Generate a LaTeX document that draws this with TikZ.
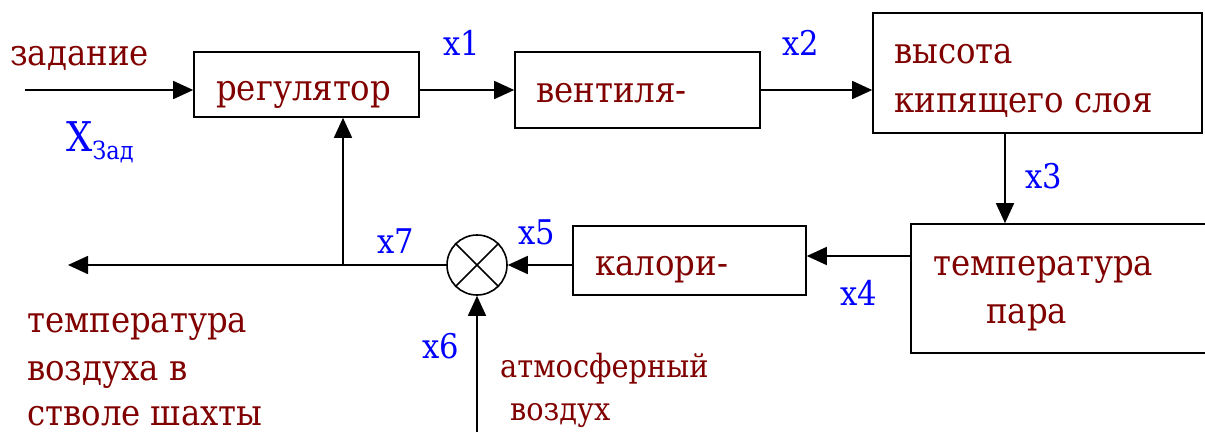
\documentclass[tikz,border=0pt]{standalone}
\usepackage{fontspec}
\setmainfont{DejaVu Serif Condensed}
\newfontfamily\tnr{DejaVu Serif Condensed}
\usetikzlibrary{arrows.meta}
\definecolor{dred}{RGB}{128,0,0}
\definecolor{lblue}{RGB}{0,0,255}
\begin{document}
\begin{tikzpicture}[x=1pt,y=-1pt,
  blk/.style={draw=black,line width=1.6pt,minimum width=#1,inner sep=0pt},
  txt/.style={anchor=base west,inner sep=0pt,text=dred,font=\tnr\fontsize{36}{42}\selectfont},
  stxt/.style={anchor=base west,inner sep=0pt,text=dred,font=\tnr\fontsize{32}{38}\selectfont},
  lbl/.style={anchor=base west,inner sep=0pt,text=lblue,font=\tnr\fontsize{34}{40}\selectfont},
  arr/.style={draw=black,line width=1.6pt,-{Triangle[length=20pt,width=18pt]}},
  ln/.style={draw=black,line width=1.6pt}]
\useasboundingbox (0,0) rectangle (1205,432);
% boxes
\node[blk=225pt,minimum height=65pt] (reg) at (306.5,84.5) {};
\node[blk=245pt,minimum height=76pt] (vent) at (637.5,90) {};
\node[blk=329pt,minimum height=120pt] (vys) at (1037.5,73) {};
\node[blk=319pt,minimum height=129pt] (temp) at (1070.5,288.5) {};
\node[blk=233pt,minimum height=69pt] (kal) at (689.5,260.5) {};
\node[draw=black,line width=1.6pt,circle,minimum size=60pt,inner sep=0pt] (sum) at (477,265) {};
\draw[ln] (sum.45) -- (sum.225) (sum.135) -- (sum.-45);
% coordinates
\coordinate (in) at (25,90);
\coordinate (xa) at (1005,0);
\coordinate (ya) at (0,256);
\coordinate (bot) at (477,432);
\coordinate (out) at (68,265);
\coordinate (j) at (343,265);
% connectors
\draw[arr] (in) -- (in -| reg.west);
\draw[arr] (reg.east |- vent.west) -- (vent.west);
\draw[arr] (vent.east) -- (vent.east -| vys.west);
\draw[arr] (vys.south -| xa) -- (temp.north -| xa);
\draw[arr] (temp.west |- ya) -- (kal.east |- ya);
\draw[arr] (kal.west |- sum) -- (sum.east);
\draw[arr] (bot) -- (sum.south);
\draw[arr] (sum.west) -- (out);
\draw[arr] (j) -- (j |- reg.south);
% texts
\node[txt] (t1) at (10,65) {задание};
\node[txt] (t2) at (216,100) {регулятор};
\node[txt] (t3) at (536,102) {вентиля-};
\node[txt] (t4) at (894,63) {высота};
\node[txt] (t5) at (894,112) {кипящего слоя};
\node[txt] (t6) at (933,275) {температура};
\node[txt] (t7) at (986,323) {пара};
\node[txt] (t8) at (595,275) {калори-};
\node[txt] (t9) at (27,332) {температура};
\node[txt] (t10) at (27,380) {воздуха в};
\node[txt] (t11) at (27,425) {стволе шахты};
\node[stxt] (t12) at (500,377) {атмосферный};
\node[stxt] (t13) at (510,420) {воздух};
% labels
\node[lbl] (l1) at (443,55) {x1};
\node[lbl] (l2) at (782,55) {x2};
\node[lbl] (l3) at (1025,188) {x3};
\node[lbl] (l4) at (840,305) {x4};
\node[lbl] (l5) at (518,244) {x5};
\node[lbl] (l6) at (422,358) {x6};
\node[lbl] (l7) at (377,253) {x7};
\node[lbl] (l0) at (66,151) {{\fontsize{41}{46}\selectfont X}\raisebox{-8pt}{\fontsize{25}{29}\selectfont Зад}};
\end{tikzpicture}
\end{document}
